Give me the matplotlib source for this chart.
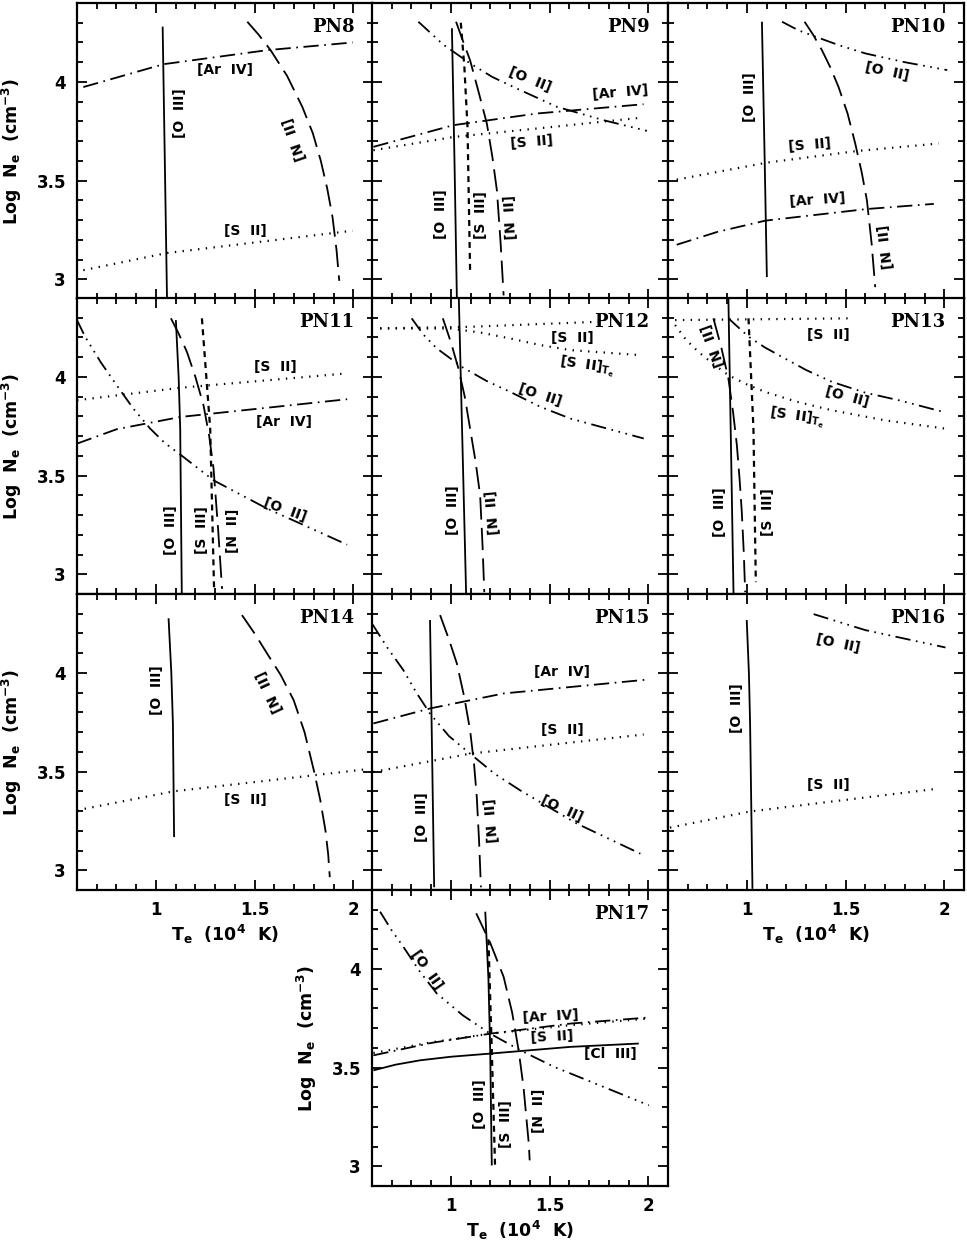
import matplotlib.pyplot as plt
from matplotlib.ticker import MultipleLocator

plt.rcParams["font.family"] = "DejaVu Sans"
plt.rcParams["font.weight"] = "bold"
plt.rcParams["mathtext.default"] = "bf"
plt.rcParams["lines.scale_dashes"] = False

# --- diagnostic curves: name -> (Te [1e4 K], log Ne) ---
pn8 = {
    "O III": ([1.034, 1.045, 1.056], [4.28, 3.60, 2.91]),
    "Ar IV": ([0.632, 1.039, 1.564, 1.997], [3.974, 4.09, 4.161, 4.20]),
    "N II": ([1.463, 1.52, 1.581, 1.665, 1.742, 1.795, 1.835, 1.868, 1.895, 1.915, 1.929],
             [4.305, 4.24, 4.161, 4.03, 3.873, 3.74, 3.602, 3.46, 3.314, 3.15, 2.992]),
    "S II": ([0.632, 1.056, 1.997], [3.046, 3.133, 3.246]),
}
pn9 = {
    "O III": ([1.005, 1.018, 1.030], [4.272, 3.60, 2.91]),
    "S III": ([1.050, 1.068, 1.084, 1.097], [4.30, 4.077, 3.772, 3.045]),
    "N II": ([1.026, 1.060, 1.097, 1.140, 1.182, 1.210, 1.233, 1.252, 1.267],
             [4.305, 4.21, 4.11, 3.95, 3.789, 3.62, 3.45, 3.18, 2.918]),
    "O II": ([0.835, 0.96, 1.097, 1.21, 1.333, 1.537, 1.774, 1.993],
             [4.305, 4.19, 4.094, 4.025, 3.967, 3.874, 3.806, 3.752]),
    "Ar IV": ([0.607, 1.013, 1.436, 1.976], [3.671, 3.781, 3.84, 3.887]),
    "S II": ([0.607, 1.013, 1.436, 1.976], [3.654, 3.721, 3.764, 3.82]),
}
pn10 = {
    "O III": ([1.076, 1.090, 1.101], [4.305, 3.60, 3.011]),
    "N II": ([1.292, 1.335, 1.380, 1.422, 1.464, 1.51, 1.549, 1.582, 1.608, 1.632, 1.650],
             [4.305, 4.24, 4.161, 4.075, 3.975, 3.84, 3.687, 3.54, 3.40, 3.18, 2.96]),
    "O II": ([1.178, 1.26, 1.348, 1.47, 1.602, 1.80, 2.015], [4.305, 4.262, 4.229, 4.185, 4.144, 4.10, 4.06]),
    "S II": ([0.644, 1.101, 1.558, 1.972], [3.505, 3.591, 3.65, 3.688]),
    "Ar IV": ([0.644, 0.85, 1.093, 1.608, 1.947], [3.175, 3.24, 3.297, 3.356, 3.382]),
}
pn11 = {
    "O III": ([1.101, 1.115, 1.123, 1.131], [4.288, 4.0, 3.738, 2.901]),
    "S III": ([1.233, 1.275, 1.295], [4.297, 3.738, 2.909]),
    "N II": ([1.076, 1.115, 1.157, 1.200, 1.241, 1.270, 1.292, 1.315, 1.335],
             [4.297, 4.22, 4.127, 4.0, 3.857, 3.70, 3.535, 3.23, 2.926]),
    "S II": ([0.60, 1.123, 1.969], [3.882, 3.945, 4.018]),
    "Ar IV": ([0.60, 0.801, 1.123, 1.969], [3.662, 3.735, 3.797, 3.887]),
    "O II": ([0.60, 0.641, 0.72, 0.801, 0.885, 0.971, 1.045, 1.123, 1.292, 1.563, 1.969],
             [4.288, 4.204, 4.075, 3.958, 3.84, 3.738, 3.665, 3.607, 3.476, 3.333, 3.15]),
}
pn12 = {
    "O III": ([1.040, 1.077], [4.40, 2.90]),
    "N II": ([0.959, 1.000, 1.038, 1.070, 1.097, 1.125, 1.148, 1.160, 1.169],
             [4.297, 4.175, 4.043, 3.90, 3.739, 3.57, 3.40, 3.15, 2.909]),
    "S II": ([0.641, 1.097, 1.757], [4.246, 4.254, 4.28]),
    "S II Te": ([0.641, 1.0, 1.15, 1.3, 1.45, 1.605, 1.952], [4.246, 4.245, 4.225, 4.195, 4.162, 4.136, 4.111]),
    "O II": ([0.801, 0.86, 0.928, 1.055, 1.18, 1.301, 1.45, 1.605, 1.977],
             [4.297, 4.215, 4.145, 4.051, 3.98, 3.924, 3.85, 3.789, 3.688]),
}
pn13 = {
    "O III": ([0.906, 0.920, 0.932], [4.40, 3.60, 2.90]),
    "S III": ([1.008, 1.033, 1.045], [4.297, 3.738, 2.96]),
    "N II": ([0.83, 0.87, 0.906, 0.930, 0.949, 0.963, 0.974, 0.984, 0.991],
             [4.297, 4.15, 3.992, 3.82, 3.654, 3.48, 3.315, 3.11, 2.909]),
    "S II": ([0.636, 1.524], [4.288, 4.297]),
    "S II Te": ([0.636, 0.69, 0.754, 0.83, 0.906, 1.0, 1.092, 1.25, 1.431, 1.70, 2.006],
                [4.263, 4.19, 4.127, 4.065, 4.009, 3.962, 3.924, 3.875, 3.831, 3.78, 3.738]),
    "O II": ([0.906, 1.008, 1.09, 1.177, 1.30, 1.431, 1.60, 1.769, 2.006],
             [4.297, 4.204, 4.15, 4.102, 4.035, 3.975, 3.92, 3.882, 3.82]),
}
pn14 = {
    "O III": ([1.064, 1.078, 1.086, 1.092], [4.277, 4.0, 3.744, 3.168]),
    "N II": ([1.436, 1.50, 1.563, 1.632, 1.698, 1.753, 1.80, 1.832, 1.859, 1.873, 1.881],
             [4.293, 4.20, 4.099, 3.99, 3.862, 3.70, 3.507, 3.36, 3.202, 3.08, 2.965]),
    "S II": ([0.60, 1.089, 2.05], [3.304, 3.40, 3.51]),
}
pn15 = {
    "O III": ([0.894, 0.915], [4.268, 2.914]),
    "N II": ([0.945, 0.99, 1.03, 1.067, 1.097, 1.117, 1.131, 1.143, 1.152],
             [4.293, 4.17, 4.048, 3.88, 3.71, 3.54, 3.371, 3.14, 2.914]),
    "Ar IV": ([0.607, 0.894, 1.267, 2.003], [3.744, 3.82, 3.896, 3.967]),
    "S II": ([0.607, 1.097, 1.977], [3.498, 3.591, 3.688]),
    "O II": ([0.60, 0.68, 0.759, 0.825, 0.894, 0.99, 1.097, 1.22, 1.351, 1.639, 1.96],
             [4.25, 4.125, 4.014, 3.90, 3.794, 3.68, 3.591, 3.49, 3.405, 3.236, 3.084]),
}
pn16 = {
    "O III": ([0.999, 1.010, 1.016, 1.028], [4.268, 4.0, 3.744, 2.906]),
    "O II": ([1.338, 1.60, 2.006], [4.298, 4.217, 4.129]),
    "S II": ([0.61, 1.016, 1.972], [3.216, 3.298, 3.414]),
}
pn17 = {
    "O III": ([1.174, 1.190, 1.199, 1.207], [4.29, 3.95, 3.588, 3.004]),
    "S III": ([1.19, 1.207, 1.224], [4.15, 3.588, 2.987]),
    "N II": ([1.128, 1.20, 1.267, 1.31, 1.343, 1.368, 1.385, 1.395, 1.399],
             [4.282, 4.13, 3.96, 3.78, 3.588, 3.40, 3.216, 3.11, 3.03]),
    "O II": ([0.641, 0.70, 0.759, 0.84, 0.928, 1.06, 1.199, 1.351, 1.52, 1.69, 2.003],
             [4.29, 4.195, 4.112, 3.99, 3.876, 3.765, 3.672, 3.588, 3.505, 3.436, 3.309]),
    "Ar IV": ([0.607, 0.90, 1.199, 1.605, 2.003], [3.562, 3.625, 3.672, 3.723, 3.754]),
    "S II": ([0.607, 0.90, 1.199, 1.605, 2.003], [3.574, 3.628, 3.672, 3.715, 3.749]),
    "Cl III": ([0.607, 0.72, 0.844, 1.00, 1.199, 1.605, 1.952], [3.486, 3.515, 3.537, 3.555, 3.571, 3.605, 3.622]),
}

# curve labels: (text, Te, log Ne, rotation)
OIII, OII, NII, SII, SIII = "[O  III]", "[O  II]", "[N  II]", "[S  II]", "[S  III]"
ARIV, CLIII = "[Ar  IV]", "[Cl  III]"
STE = r"[S  II]$_{T_e}$"
labels8 = [(ARIV, 1.352, 4.06, 0), (OIII, 1.123, 3.84, 90),
           (NII, 1.707, 3.713, 109), (SII, 1.453, 3.245, 0)]
labels9 = [(OII, 1.402, 4.009, -22), (ARIV, 1.859, 3.945, 5), (SII, 1.41, 3.695, 5),
           (OIII, 0.949, 3.332, 90), (SIII, 1.152, 3.324, 90), (NII, 1.305, 3.315, 93)]
labels10 = [(OII, 1.708, 4.051, -12), (OIII, 1.016, 3.924, 90), (SII, 1.316, 3.679, 5),
            (ARIV, 1.357, 3.403, 4), (NII, 1.708, 3.163, 97)]
labels11 = [(SII, 1.605, 4.051, 0), (ARIV, 1.647, 3.772, 0), (OII, 1.656, 3.324, -20),
            (OIII, 1.076, 3.222, 90), (SIII, 1.233, 3.222, 90), (NII, 1.393, 3.222, 90)]
labels12 = [(SII, 1.614, 4.195, 0), (STE, 1.69, 4.051, -8), (OII, 1.453, 3.908, -18),
            (OIII, 1.013, 3.324, 90), (NII, 1.216, 3.315, 95)]
labels13 = [(SII, 1.414, 4.212, 0), (OII, 1.507, 3.899, -15), (STE, 1.253, 3.797, -8),
            (NII, 0.83, 4.161, 110), (OIII, 0.864, 3.315, 90), (SIII, 1.109, 3.315, 90)]
labels14 = [(OIII, 1.004, 3.913, 90), (NII, 1.58, 3.904, 115), (SII, 1.453, 3.354, 0)]
labels15 = [(ARIV, 1.563, 4.006, 0), (SII, 1.563, 3.71, 0), (OII, 1.563, 3.312, -25),
            (OIII, 0.852, 3.27, 90), (NII, 1.208, 3.253, 95)]
labels16 = [(OII, 1.464, 4.149, -12), (OIII, 0.949, 3.82, 90), (SII, 1.414, 3.43, 0)]
labels17 = [(OII, 0.878, 3.994, -55), (ARIV, 1.504, 3.76, 3), (SII, 1.512, 3.655, 3),
            (CLIII, 1.808, 3.571, 0), (OIII, 1.148, 3.317, 90), (SIII, 1.28, 3.216, 90),
            (NII, 1.444, 3.283, 90)]

# line style per diagnostic (dash lengths in points)
STYLES = {
    "O III": "-",
    "Cl III": "-",
    "S III": (0, (4.3, 3.6)),
    "N II": (0, (16, 6)),
    "S II": (0, (1.0, 4.6)),
    "S II Te": (0, (1.0, 4.6)),
    "Ar IV": (0, (11, 4, 1.2, 4)),
    "O II": (0, (11, 4, 1.2, 4, 1.2, 4, 1.2, 4)),
}

# name, curves, labels, column, row
panels = [
    ("PN8", pn8, labels8, 0, 0), ("PN9", pn9, labels9, 1, 0), ("PN10", pn10, labels10, 2, 0),
    ("PN11", pn11, labels11, 0, 1), ("PN12", pn12, labels12, 1, 1), ("PN13", pn13, labels13, 2, 1),
    ("PN14", pn14, labels14, 0, 2), ("PN15", pn15, labels15, 1, 2), ("PN16", pn16, labels16, 2, 2),
    ("PN17", pn17, labels17, 1, 3),
]
x_labelled = {"PN14", "PN16", "PN17"}

W, H = 967, 1243
col_left = [77, 372, 668]
row_top = [3, 298, 594, 890]
size = 296

fig = plt.figure(figsize=(W / 100, H / 100), dpi=100)

for name, curves, labels, col, row in panels:
    ax = fig.add_axes([col_left[col] / W, 1 - (row_top[row] + size) / H, size / W, size / H])
    for key, (te, ne) in curves.items():
        lw = 1.6 if key.startswith("S II") else 1.3
        ax.plot(te, ne, color="black", lw=lw, linestyle=STYLES[key],
                solid_capstyle="butt", dash_capstyle="butt")
    for text, x, y, rot in labels:
        ax.text(x, y, text, rotation=rot, ha="center", va="center", fontsize=10,
                fontweight="bold", rotation_mode="anchor")
    ax.text(0.937, 0.92, name, transform=ax.transAxes, ha="right", va="center",
            fontsize=13, fontweight="bold", family="DejaVu Serif")

    ax.set_xlim(0.6, 2.1)
    ax.set_ylim(2.9, 4.4)
    ax.set_xticks([1, 1.5, 2])
    ax.set_yticks([3, 3.5, 4])
    ax.xaxis.set_minor_locator(MultipleLocator(0.1))
    ax.yaxis.set_minor_locator(MultipleLocator(0.1))
    ax.tick_params(which="both", direction="in", top=True, right=True, width=1.3,
                   labelsize=12, pad=8)
    ax.tick_params(which="major", length=7.5)
    ax.tick_params(which="minor", length=4)
    for sp in ax.spines.values():
        sp.set_linewidth(1.6)

    show_x = name in x_labelled
    show_y = col == 0 or name == "PN17"
    ax.tick_params(labelbottom=show_x, labelleft=show_y)
    if show_x:
        ax.set_xticklabels(["1", "1.5", "2"])
        ax.set_xlabel(r"T$_e$  (10$^4$  K)", fontsize=12.5, fontweight="bold")
        ax.xaxis.set_label_coords(0.5, -0.11)
    if show_y:
        ax.set_yticklabels(["3", "3.5", "4"])
        ax.set_ylabel(r"Log  N$_e$  (cm$^{-3}$)", fontsize=12.5, fontweight="bold")
        ax.yaxis.set_label_coords(-0.18, 0.5)

fig.savefig("out.png", dpi=100)
